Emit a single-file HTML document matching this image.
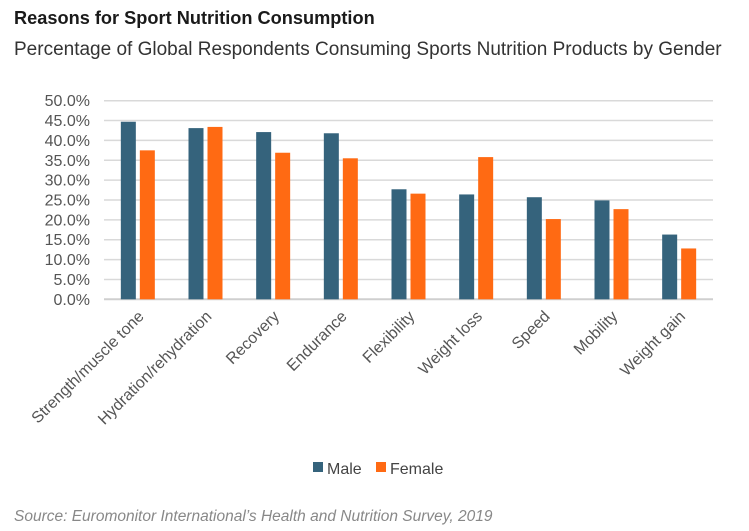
<!DOCTYPE html>
<html><head><meta charset="utf-8"><style>
body{margin:0;background:#fff;font-family:"Liberation Sans",sans-serif;}
#wrap{position:relative;width:749px;height:531px;overflow:hidden;}
.t{position:absolute;white-space:nowrap;}
</style></head><body>
<div id="wrap">
<div class="t" style="left:14px;top:8px;font-size:18.2px;font-weight:bold;color:#1a1a1a;">Reasons for Sport Nutrition Consumption</div>
<div class="t" style="left:14px;top:39px;font-size:19px;color:#333;">Percentage of Global Respondents Consuming Sports Nutrition Products by Gender</div>
<svg id="chart" width="749" height="531" style="position:absolute;left:0;top:0"></svg>
<div class="t" style="left:14px;top:508px;font-size:15.5px;font-style:italic;color:#888;">Source: Euromonitor International’s Health and Nutrition Survey, 2019</div>
</div>
<script>
const categories=["Strength/muscle tone","Hydration/rehydration","Recovery","Endurance","Flexibility","Weight loss","Speed","Mobility","Weight gain"];
const male=[44.7,43.1,42.1,41.8,27.7,26.4,25.7,24.9,16.3];
const female=[37.5,43.4,36.9,35.5,26.6,35.8,20.2,22.7,12.8];
const ticks=[0,5,10,15,20,25,30,35,40,45,50];
const NS="http://www.w3.org/2000/svg";
const svg=document.getElementById('chart');
const x0=104,x1=713,y0=299.3,y1=100.7;
const y=v=>y0-(v/50)*(y0-y1);
const bw=(x1-x0)/categories.length;
const cx=i=>x0+bw*(i+0.5);
function mk(tag,attrs){const e=document.createElementNS(NS,tag);for(const k in attrs)e.setAttribute(k,attrs[k]);svg.appendChild(e);return e;}
ticks.forEach(t=>{
 const l=mk('line',{x1:x0,x2:x1,y1:y(t),y2:y(t),stroke:t===0?'#cfcfcf':'#d9d9d9','stroke-width':t===0?2:1.5});
 
 
 const tx=mk('text',{x:90,y:y(t)+5.5,'text-anchor':'end','font-size':16,fill:'#555','font-family':'Liberation Sans, sans-serif'});
 tx.textContent=t.toFixed(1)+'%';
 
 
});
categories.forEach((c,i)=>{
 const m=mk('rect',{x:cx(i)-17,y:y(male[i]),width:15,height:y0-y(male[i]),fill:'#35637c'});
 
 
 const f=mk('rect',{x:cx(i)+2,y:y(female[i]),width:15,height:y0-y(female[i]),fill:'#ff6a13'});
 
 
 const tx=mk('text',{x:0,y:0,'text-anchor':'end','font-size':16,fill:'#555','font-family':'Liberation Sans, sans-serif',transform:`translate(${cx(i)+7},${y0+18}) rotate(-45)`});
 tx.textContent=c;
 
 
});
const lg=[['Male','#35637c',313],['Female','#ff6a13',376]];
lg.forEach(([n,col,lx])=>{
 const r=mk('rect',{x:lx,y:462,width:10,height:10,fill:col});
 
 
 const t=mk('text',{x:lx+14,y:474,'font-size':16,fill:'#444','font-family':'Liberation Sans, sans-serif'});
 t.textContent=n;
 
 
});
</script>
</body></html>
